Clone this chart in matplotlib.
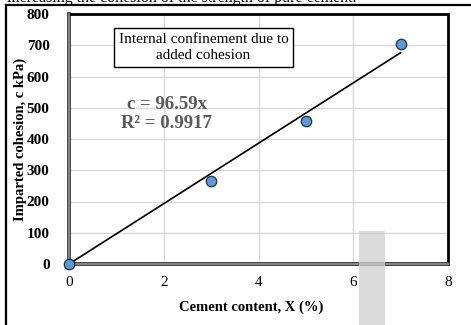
import numpy as np
import matplotlib
matplotlib.use("Agg")
import matplotlib.pyplot as plt
from matplotlib.patches import Rectangle
from matplotlib.lines import Line2D

plt.rcParams["font.family"] = ["Liberation Serif", "DejaVu Serif"]

# --- data ---
cement = [0, 3, 5, 7]              # X (%)
cohesion = [0, 265, 457, 705]      # c (kPa)
slope = 96.59                      # trendline c = 96.59x, R^2 = 0.9917
r2 = 0.9917
xticks = [0, 2, 4, 6, 8]
yticks = [0, 100, 200, 300, 400, 500, 600, 700, 800]

W, H = 471, 325
fig = plt.figure(figsize=(W / 100, H / 100), dpi=100)
ax = fig.add_axes([69 / W, 1 - 264 / H, (448 - 69) / W, (264 - 14) / H])

# grid
ax.set_xlim(0, 8)
ax.set_ylim(0, 800)
ax.set_xticks(xticks)
ax.set_yticks(yticks)
ax.grid(True, color="#d9d9d9", lw=1.0, zorder=0)
ax.set_axisbelow(True)
ax.tick_params(length=0)
ax.tick_params(axis="y", pad=14, labelsize=11)
ax.tick_params(axis="x", pad=9, labelsize=11)
for lab in ax.get_yticklabels():
    lab.set_fontweight("bold")

# trendline
xs = np.array([0, max(cement)])
ax.plot(xs, slope * xs, color="black", lw=1.2, zorder=3)

# points
ax.plot(cement, cohesion, "o", ms=7.5, color="#5b9bd5", mec="#1f2f4a",
        mew=0.9, zorder=5, clip_on=False)

# spines: top/right black, left/bottom grey double
for s in ("top", "right"):
    ax.spines[s].set_color("black")
    ax.spines[s].set_linewidth(2.0)
for s in ("left", "bottom"):
    ax.spines[s].set_color("#404040")
    ax.spines[s].set_linewidth(2.8)
ax.add_line(Line2D([0, 1], [0, 0], transform=ax.transAxes, color="#8c8c8c",
                   lw=1.3, clip_on=False, zorder=4))
ax.add_line(Line2D([0, 0], [0, 1], transform=ax.transAxes, color="#8c8c8c",
                   lw=1.3, clip_on=False, zorder=4))

ax.set_xlabel("Cement content, X (%)", fontsize=10.5, fontweight="bold")
ax.set_ylabel("Imparted cohesion, c kPa)", fontsize=10.5, fontweight="bold")
ax.xaxis.set_label_coords(0.48, -(307 - 264) / 250)
ax.yaxis.set_label_coords(-(69 - 20) / 379, 0.5)
ax.xaxis.label.set_va("center")
ax.yaxis.label.set_va("center")

# annotation box
ax.text(0.355, 0.866, "Internal confinement due to\nadded cohesion",
        transform=ax.transAxes, ha="center", va="center", fontsize=11,
        linespacing=1.3,
        bbox=dict(boxstyle="square,pad=0.3", fc="white", ec="black", lw=1.0),
        zorder=6)

# equation
ax.text(0.258, 0.6, f"c = {slope}x\nR² = {r2}", transform=ax.transAxes,
        ha="center", va="center", fontsize=13.5, fontweight="bold",
        color="#595959", linespacing=1.2, zorder=6)

# page remnants: cut caption line, outer frame, grey strip
fig.text(7 / W, 1 - 2.5 / H, "increasing the cohesion of the strength of pure cement.",
         fontsize=11.5, ha="left", va="baseline")
fig.add_artist(Line2D([6 / W, 1], [1 - 5 / H, 1 - 5 / H], color="black", lw=1.6))
fig.add_artist(Line2D([6 / W, 6 / W], [0, 1 - 5 / H], color="black", lw=1.6))
fig.add_artist(Rectangle((359 / W, 0), 26 / W, (325 - 231) / H,
                         transform=fig.transFigure, color="#cfcfcf", alpha=0.75,
                         zorder=10, lw=0))

fig.savefig("out.png", dpi=100, facecolor="white")
